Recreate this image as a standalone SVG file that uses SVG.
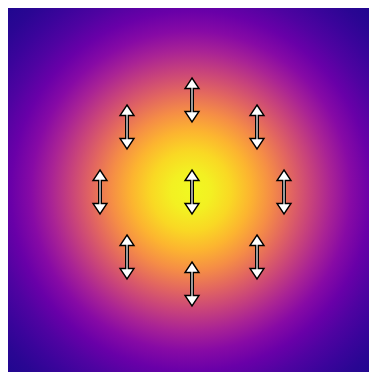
<svg xmlns="http://www.w3.org/2000/svg" xmlns:xlink="http://www.w3.org/1999/xlink" width="369" height="372" viewBox="0 0 369 372">
  <style>
    .arrow { fill: #ffffff; stroke: #000000; stroke-width: 1.4; stroke-linejoin: miter; }
  </style>
  <defs>
    <radialGradient id="plasma" gradientUnits="userSpaceOnUse" cx="191" cy="191" r="280">
      <stop offset="0" stop-color="#f0f921"/>
      <stop offset="0.0714" stop-color="#f3f022"/>
      <stop offset="0.1429" stop-color="#f9d824"/>
      <stop offset="0.2143" stop-color="#fcb430"/>
      <stop offset="0.2857" stop-color="#f58d46"/>
      <stop offset="0.3571" stop-color="#e26660"/>
      <stop offset="0.4286" stop-color="#c8437b"/>
      <stop offset="0.5" stop-color="#a92395"/>
      <stop offset="0.5714" stop-color="#870aa5"/>
      <stop offset="0.6429" stop-color="#6900a8"/>
      <stop offset="0.7143" stop-color="#4f03a1"/>
      <stop offset="0.7857" stop-color="#3b049b"/>
      <stop offset="0.8571" stop-color="#2a0693"/>
      <stop offset="0.9286" stop-color="#1f078f"/>
      <stop offset="1" stop-color="#17078b"/>
    </radialGradient>
    <path id="dbl" class="arrow" d="M0,-22 L7,-11.5 L1.3,-11.5 L1.3,11.5 L7,11.5 L0,22 L-7,11.5 L-1.3,11.5 L-1.3,-11.5 L-7,-11.5 Z"/>
  </defs>
  <rect x="0" y="0" width="369" height="372" fill="#ffffff"/>
  <rect id="field" x="8" y="8" width="361" height="364" fill="url(#plasma)"/>
  <g id="arrow-center"><use xlink:href="#dbl" href="#dbl" x="192" y="192"/></g>
  <g id="arrow-top"><use xlink:href="#dbl" href="#dbl" x="192" y="100"/></g>
  <g id="arrow-bottom"><use xlink:href="#dbl" href="#dbl" x="192" y="284"/></g>
  <g id="arrow-left"><use xlink:href="#dbl" href="#dbl" x="100" y="192"/></g>
  <g id="arrow-right"><use xlink:href="#dbl" href="#dbl" x="284" y="192"/></g>
  <g id="arrow-top-left"><use xlink:href="#dbl" href="#dbl" x="127" y="127"/></g>
  <g id="arrow-top-right"><use xlink:href="#dbl" href="#dbl" x="257" y="127"/></g>
  <g id="arrow-bottom-left"><use xlink:href="#dbl" href="#dbl" x="127" y="257"/></g>
  <g id="arrow-bottom-right"><use xlink:href="#dbl" href="#dbl" x="257" y="257"/></g>
  <g id="connectors"></g>
</svg>
